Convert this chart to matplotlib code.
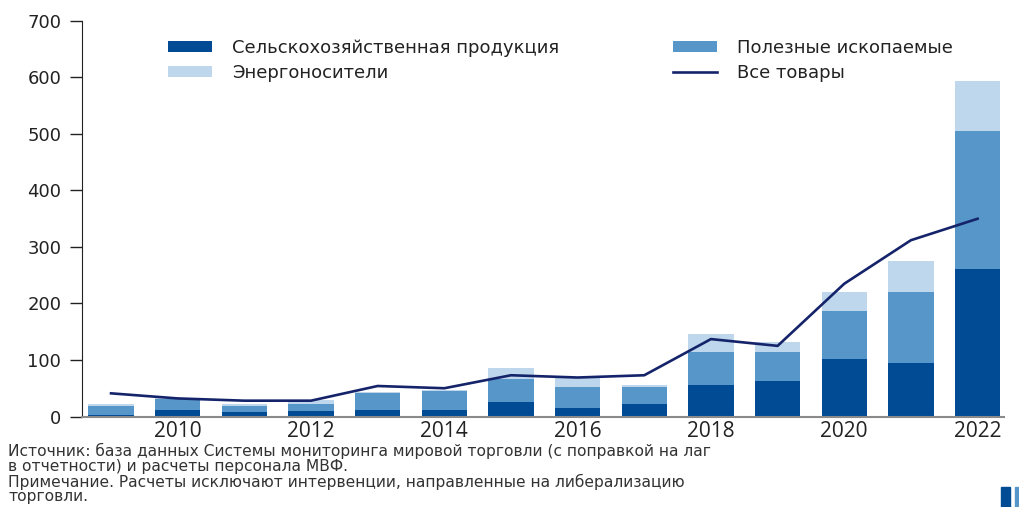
import numpy as np
import matplotlib
matplotlib.use('Agg')
from matplotlib import pyplot as plt
from matplotlib.patches import Rectangle

## data
years = [2009, 2010, 2011, 2012, 2013, 2014, 2015, 2016, 2017, 2018, 2019, 2020, 2021, 2022]
agri = [3, 11, 8, 9, 11, 11, 26, 15, 22, 55, 63, 101, 94, 261]
minerals = [16, 20, 11, 13, 31, 35, 41, 38, 30, 60, 52, 86, 126, 244]
energy = [3, 1, 3, 7, 2, 1, 18, 16, 3, 31, 16, 34, 56, 89]
all_goods = [41, 32, 28, 28, 54, 50, 73, 69, 73, 137, 125, 235, 312, 350]

x_ticks = [2010, 2012, 2014, 2016, 2018, 2020, 2022]
y_ticks = [0, 100, 200, 300, 400, 500, 600, 700]

labels = ['Сельскохозяйственная продукция', 'Полезные ископаемые',
          'Энергоносители', 'Все товары']
note = ('Источник: база данных Системы мониторинга мировой торговли (с поправкой на лаг\n'
        'в отчетности) и расчеты персонала МВФ.\n'
        'Примечание. Расчеты исключают интервенции, направленные на либерализацию\n'
        'торговли.')

c_dark = '#004b93'
c_mid = '#5796c9'
c_light = '#bfd7ec'
c_line = '#15246a'

fig = plt.figure(figsize=(10.19, 5.07), dpi=100)
ax = fig.add_axes([0.0805, 0.1785, 0.905, 0.7801])

agri = np.array(agri)
minerals = np.array(minerals)
energy = np.array(energy)

w = 0.68
b1 = ax.bar(years, agri, w, color=c_dark, label=labels[0])
b2 = ax.bar(years, minerals, w, bottom=agri, color=c_mid, label=labels[1])
b3 = ax.bar(years, energy, w, bottom=agri + minerals, color=c_light, label=labels[2])
ln, = ax.plot(years, all_goods, color=c_line, lw=1.9, label=labels[3])

ax.set_xlim(2008.565, 2022.4)
ax.set_ylim(0, 700)
ax.set_yticks(y_ticks)
ax.set_xticks(x_ticks)
ax.tick_params(axis='y', length=9, width=1, color='#222222', labelsize=13,
               labelcolor='#222222', pad=6)
ax.tick_params(axis='x', length=0, labelsize=15, labelcolor='#222222', pad=3)
for t in ax.get_xticklabels():
    t.set_family('Open Sans')
for t in ax.get_yticklabels():
    t.set_family('DejaVu Sans')
ax.spines['top'].set_visible(False)
ax.spines['right'].set_visible(False)
ax.spines['left'].set_color('#222222')
ax.spines['bottom'].set_color('#8a8a8a')
ax.spines['bottom'].set_linewidth(1.5)

leg = ax.legend([b1, b3, b2, ln], [labels[0], labels[2], labels[1], labels[3]],
                ncol=2, frameon=False, loc='upper left',
                bbox_to_anchor=(0.093, 0.955), borderaxespad=0, borderpad=0,
                handlelength=2.45, handleheight=0.5, handletextpad=1.1,
                columnspacing=6.3, labelspacing=0.4,
                prop={'family': 'DejaVu Sans', 'size': 13})
for t in leg.get_texts():
    t.set_color('#222222')

fig.text(0.008, 0.126, note, ha='left', va='top', fontsize=11.2,
         family='DejaVu Sans', color='#333333', linespacing=0.97)

## small logo fragment in the corner
fig.patches.append(Rectangle((0.982, 0.0), 0.009, 0.04, transform=fig.transFigure,
                             color=c_dark, zorder=5))
fig.patches.append(Rectangle((0.996, 0.0), 0.003, 0.04, transform=fig.transFigure,
                             color=c_mid, zorder=5))

fig.savefig('out.png', dpi=100)
